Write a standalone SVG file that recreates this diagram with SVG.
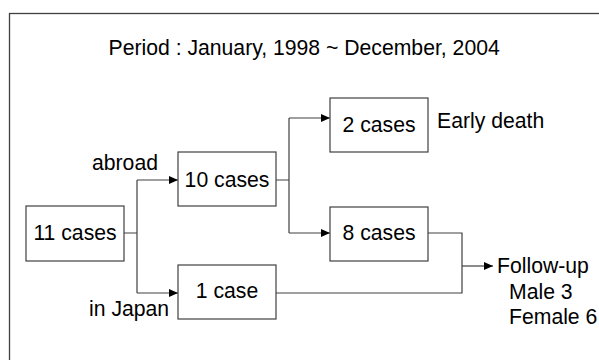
<svg xmlns="http://www.w3.org/2000/svg" width="599" height="360" viewBox="0 0 599 360">
<defs>
<marker id="arr" markerWidth="10" markerHeight="10" refX="9" refY="5" orient="auto" markerUnits="userSpaceOnUse">
<path d="M0,1 L9,5 L0,9 Z" fill="#000"/>
</marker>
<style>
text{font-family:"Liberation Sans",Arial,sans-serif;font-size:21.2px;fill:#000}
.box{fill:#fff;stroke:#404040;stroke-width:1.2}
.c{fill:none;stroke:#404040;stroke-width:1.2}
.m{text-anchor:middle}
</style>
</defs>
<rect width="599" height="360" fill="#fff"/>
<rect x="9.5" y="13.5" width="600" height="360" fill="none" stroke="#404040" stroke-width="1.3"/>
<text x="108.5" y="55">Period : January, 1998 ~ December, 2004</text>
<g id="connectors">
<path class="c" d="M124,233 H137 M137,180 V293"/>
<path class="c" d="M137,180 H178" marker-end="url(#arr)"/>
<path class="c" d="M137,293 H178" marker-end="url(#arr)"/>
<path class="c" d="M276,180 H289 M289,118 V233"/>
<path class="c" d="M289,118 H330" marker-end="url(#arr)"/>
<path class="c" d="M289,233 H330" marker-end="url(#arr)"/>
<path class="c" d="M428,233 H462 V293 H276"/>
<path class="c" d="M462,266 H493" marker-end="url(#arr)"/>
</g>
<g id="n11"><rect class="box" x="26" y="206" width="98" height="55"/><text class="m" x="75" y="240">11 cases</text></g>
<g id="n10"><rect class="box" x="178" y="152" width="98" height="54"/><text class="m" x="227" y="187">10 cases</text></g>
<g id="n1"><rect class="box" x="178" y="265" width="98" height="54"/><text class="m" x="227" y="298">1 case</text></g>
<g id="n2"><rect class="box" x="330" y="98" width="98" height="54"/><text class="m" x="379" y="131.5">2 cases</text></g>
<g id="n8"><rect class="box" x="330" y="207" width="98" height="54"/><text class="m" x="379" y="240">8 cases</text></g>
<g id="labels">
<text x="92" y="170">abroad</text>
<text x="89" y="316">in Japan</text>
<text x="437" y="128">Early death</text>
<text x="497" y="273">Follow-up</text>
<text x="509" y="299">Male 3</text>
<text x="509" y="324">Female 6</text>
</g>
</svg>
